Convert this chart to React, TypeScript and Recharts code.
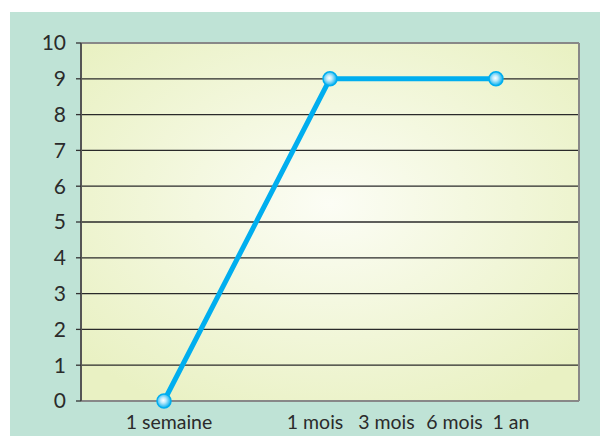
import { CartesianGrid, Line, LineChart, ReferenceLine, XAxis, YAxis } from "recharts";

// points: position on the x scale, value
const pointX = [1, 3, 5];
const pointValues = [0, 9, 9];

// x tick labels and where they sit on the same scale
const tickLabels = ["1 semaine", "1 mois", "3 mois", "6 mois", "1 an"];
const tickPositions = [1.06, 2.82, 3.68, 4.5, 5.18];

const yTicks = [0, 1, 2, 3, 4, 5, 6, 7, 8, 9, 10];

const data = pointX.map((x, i) => ({ x, value: pointValues[i] }));

const font = "Lato, 'Noto Sans', sans-serif";

export default function App() {
  return (
    <div style={{ position: "absolute", left: 0, top: 0, width: 600, height: 436, background: "#fff" }}>
      <div style={{ position: "absolute", left: 10, top: 12, width: 590, height: 424, background: "#bfe3d6" }} />
      <div style={{ position: "absolute", left: 0, top: 0 }}>
        <LineChart width={600} height={436} data={data} margin={{ top: 43, right: 21, left: 10, bottom: 0 }}>
          <defs>
            <radialGradient id="bg" cx="50%" cy="45%" r="65%">
              <stop offset="0%" stopColor="#fcfdf5" />
              <stop offset="100%" stopColor="#e9f1c3" />
            </radialGradient>
            <radialGradient id="dotGrad" cx="45%" cy="45%" r="55%">
              <stop offset="0%" stopColor="#ffffff" />
              <stop offset="35%" stopColor="#bfeafb" />
              <stop offset="100%" stopColor="#00aeef" />
            </radialGradient>
          </defs>
          <CartesianGrid vertical={false} fill="url(#bg)" fillOpacity={1} stroke="#2a2a2a" strokeWidth={1.3} />
          <XAxis
            dataKey="x"
            type="number"
            domain={[0, 6]}
            ticks={tickPositions}
            tickFormatter={(v: number) => tickLabels[tickPositions.indexOf(v)]}
            interval={0}
            height={35}
            tickLine={false}
            tickMargin={8}
            axisLine={{ stroke: "#888", strokeWidth: 2 }}
            tick={{ fontSize: 19.5, fill: "#2b2b2b", fontFamily: font }}
          />
          <YAxis
            type="number"
            domain={[0, 10]}
            ticks={yTicks}
            interval={0}
            width={71}
            tickSize={5}
            tickMargin={10}
            axisLine={{ stroke: "#555", strokeWidth: 2 }}
            tickLine={{ stroke: "#333", strokeWidth: 1.3 }}
            tick={{ fontSize: 21, fill: "#2b2b2b", fontFamily: font }}
          />
          <ReferenceLine y={10} stroke="#888" strokeWidth={2} />
          <ReferenceLine x={6} stroke="#888" strokeWidth={2} />
          <Line
            dataKey="value"
            stroke="#00aeef"
            strokeWidth={5}
            dot={{ r: 7, fill: "url(#dotGrad)", stroke: "#00aeef", strokeWidth: 1.5 }}
            activeDot={false}
            isAnimationActive={false}
          />
        </LineChart>
      </div>
    </div>
  );
}
